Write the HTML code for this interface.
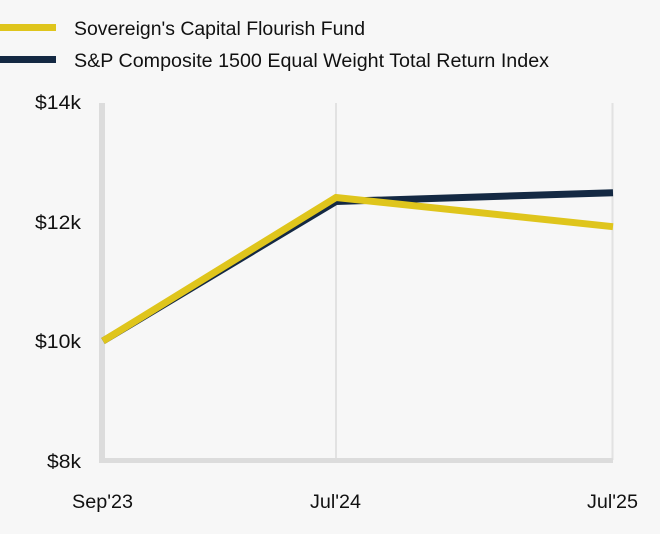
<!DOCTYPE html>
<html><head><meta charset="utf-8"><style>
html,body{margin:0;padding:0;background:#f7f7f7;}
svg{display:block;font-family:"Liberation Sans",sans-serif;}
</style></head><body>
<svg width="660" height="534" viewBox="0 0 660 534" xmlns="http://www.w3.org/2000/svg">
<rect width="660" height="534" fill="#f7f7f7"/>
<!-- legend -->
<rect x="0" y="24" width="56" height="7" fill="#dfc51c"/>
<text x="74" y="35" font-size="19" fill="#111" textLength="291" lengthAdjust="spacingAndGlyphs">Sovereign's Capital Flourish Fund</text>
<rect x="0" y="56" width="56" height="7" fill="#142943"/>
<text x="74" y="67" font-size="19" fill="#111" textLength="475" lengthAdjust="spacingAndGlyphs">S&amp;P Composite 1500 Equal Weight Total Return Index</text>
<!-- gridlines -->
<line x1="336" y1="103" x2="336" y2="460" stroke="#e2e2e2" stroke-width="2"/>
<line x1="612.5" y1="103" x2="612.5" y2="460" stroke="#e2e2e2" stroke-width="2"/>
<!-- axes -->
<line x1="102" y1="103" x2="102" y2="463" stroke="#dcdcdc" stroke-width="6"/>
<line x1="99" y1="460.5" x2="613" y2="460.5" stroke="#dcdcdc" stroke-width="5"/>
<!-- y labels -->
<g font-size="19" fill="#111">
<text x="35" y="109" textLength="46" lengthAdjust="spacingAndGlyphs">$14k</text>
<text x="35" y="229" textLength="46" lengthAdjust="spacingAndGlyphs">$12k</text>
<text x="35" y="348" textLength="46" lengthAdjust="spacingAndGlyphs">$10k</text>
<text x="47" y="468" textLength="34" lengthAdjust="spacingAndGlyphs">$8k</text>
</g>
<!-- x labels -->
<g font-size="19" fill="#111">
<text x="72" y="508" textLength="61" lengthAdjust="spacingAndGlyphs">Sep'23</text>
<text x="310" y="508" textLength="51" lengthAdjust="spacingAndGlyphs">Jul'24</text>
<text x="587" y="508" textLength="51" lengthAdjust="spacingAndGlyphs">Jul'25</text>
</g>
<!-- series -->
<polyline points="103,341 336,201.5 613,192.7" fill="none" stroke="#142943" stroke-width="7" stroke-linejoin="miter"/>
<polyline points="103,341 336,197.5 613,226.7" fill="none" stroke="#dfc51c" stroke-width="7" stroke-linejoin="miter"/>
</svg>
</body></html>
